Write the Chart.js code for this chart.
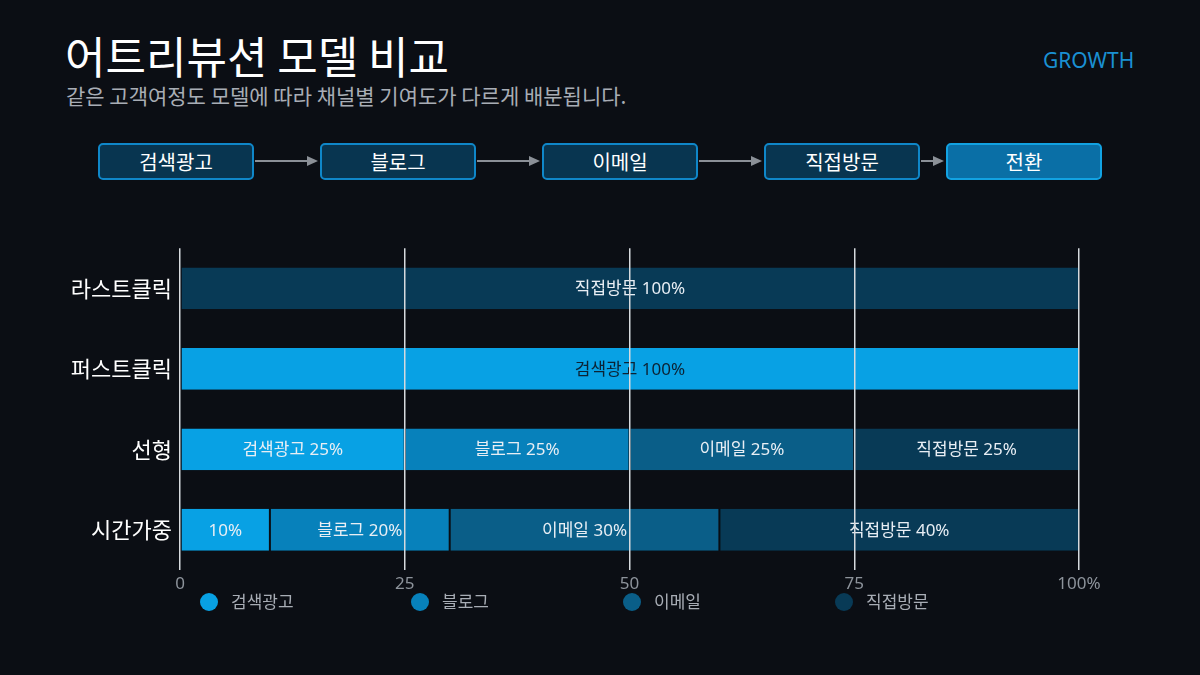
<!DOCTYPE html>
<html>
<head>
<meta charset="utf-8">
<script src="https://cdn.jsdelivr.net/npm/chart.js@4"></script>
<style>
  body { margin: 0; background: #0b0e14; font-family: "Noto Sans CJK KR", "Noto Sans", sans-serif; }
  #page { position: relative; width: 1200px; height: 675px; overflow: hidden; background: #0b0e14; }
  #title { position: absolute; left: 65px; top: 25px; color: #ffffff; font-size: 44px; line-height: 60px; }
  #sub { position: absolute; left: 66px; top: 81px; color: #a8adb5; font-size: 21px; line-height: 28px; }
  #tag { position: absolute; left: 1043px; top: 46px; color: #1a90d2; font-size: 21px; font-family: "Noto Sans", sans-serif; }
  .step { position: absolute; top: 143px; width: 152px; height: 33px; border: 2px solid #0f87c9; border-radius: 5px;
          background: #083550; color: #fff; font-size: 20px; line-height: 33px; text-align: center; }
  .step.last { background: #0a6fa6; border-color: #12a2e2; }
  #arrows { position: absolute; left: 0; top: 0; }
  #wrap { position: absolute; left: 0; top: 235px; width: 1200px; height: 365px; }
  #legend { position: absolute; top: 590px; left: 0; width: 1200px; height: 24px; }
  .lg { position: absolute; top: 0; color: #a8adb5; font-size: 17px; line-height: 22px; white-space: nowrap; }
  .lg i { display: inline-block; width: 18px; height: 18px; border-radius: 50%; vertical-align: -3px; margin-right: 13px; }
</style>
</head>
<body>
<div id="page">
  <div id="title">어트리뷰션 모델 비교</div>
  <div id="sub">같은 고객여정도 모델에 따라 채널별 기여도가 다르게 배분됩니다.</div>
  <div id="tag">GROWTH</div>
  <svg id="arrows" width="1200" height="200"></svg>
  <div id="steps"></div>
  <div id="wrap"><canvas id="chart"></canvas></div>
  <div id="legend"></div>
</div>
<script>
// attribution shares per model, in %
const models = ['라스트클릭', '퍼스트클릭', '선형', '시간가중'];
const channels = ['검색광고', '블로그', '이메일', '직접방문'];
const searchAd = [0, 100, 25, 10];
const blog = [0, 0, 25, 20];
const email = [0, 0, 25, 30];
const direct = [100, 0, 25, 40];
const xTicks = ['0', '25', '50', '75', '100%'];
const steps = ['검색광고', '블로그', '이메일', '직접방문', '전환'];

const colors = ['#08a1e4', '#0781bb', '#0a5e88', '#083a56'];
const bg = '#0b0e14';

// journey boxes + arrows
const stepLeft = [98, 320, 542, 764, 946];
const stepsDiv = document.getElementById('steps');
let svg = '';
steps.forEach((s, i) => {
  const d = document.createElement('div');
  d.className = 'step' + (i === steps.length - 1 ? ' last' : '');
  d.style.left = stepLeft[i] + 'px';
  d.textContent = s;
  stepsDiv.appendChild(d);
  if (i < steps.length - 1) {
    const x1 = stepLeft[i] + 157, x2 = stepLeft[i + 1] - 2, y = 161;
    svg += `<line x1="${x1}" y1="${y}" x2="${x2 - 10}" y2="${y}" stroke="#8b9097" stroke-width="2"/>`;
    svg += `<polygon points="${x2 - 11},${y - 5} ${x2},${y} ${x2 - 11},${y + 5}" fill="#8b9097"/>`;
  }
});
document.getElementById('arrows').innerHTML = svg;

// legend
const legendLeft = [200, 411, 623, 835];
const lg = document.getElementById('legend');
channels.forEach((c, i) => {
  const d = document.createElement('div');
  d.className = 'lg';
  d.style.left = legendLeft[i] + 'px';
  d.innerHTML = `<i style="background:${colors[i]}"></i>${c}`;
  lg.appendChild(d);
});

const seriesData = [searchAd, blog, email, direct];

// text inside segments
const segLabels = {
  id: 'segLabels',
  afterDatasetsDraw(chart) {
    const ctx = chart.ctx;
    ctx.save();
    ctx.font = '17px "Noto Sans", "Noto Sans CJK KR", sans-serif';
    ctx.textAlign = 'center';
    ctx.textBaseline = 'middle';
    chart.data.datasets.forEach((ds, di) => {
      chart.getDatasetMeta(di).data.forEach((bar, i) => {
        const v = ds.data[i];
        if (!v) return;
        const txt = v >= 15 ? ds.label + ' ' + v + '%' : v + '%';
        const cx = (bar.x + bar.base) / 2;
        ctx.fillStyle = (di === 0 && v === 100) ? '#0c2233' : '#e8eef4';
        ctx.fillText(txt, cx, bar.y + 1);
      });
    });
    ctx.restore();
  }
};

new Chart(document.getElementById('chart'), {
  type: 'bar',
  data: {
    labels: models,
    datasets: channels.map((c, i) => ({
      label: c,
      data: seriesData[i],
      backgroundColor: colors[i],
      borderColor: bg,
      borderWidth: { left: 1, right: 1, top: 0, bottom: 0 },
      borderSkipped: false,
      barPercentage: 0.52,
      categoryPercentage: 1
    }))
  },
  options: {
    indexAxis: 'y',
    responsive: true,
    maintainAspectRatio: false,
    animation: false,
    layout: { padding: { left: 0, right: 121, top: 7, bottom: 0 } },
    plugins: { legend: { display: false }, tooltip: { enabled: false } },
    scales: {
      x: {
        stacked: true,
        min: 0, max: 100,
        afterFit(s) { s.height = 30; },
        afterBuildTicks(s) { s.ticks = [0, 25, 50, 75, 100].map(v => ({ value: v })); },
        grid: { color: '#d6dade', lineWidth: 1.5, drawTicks: false, z: 1 },
        border: { display: false },
        ticks: {
          color: '#8d939b',
          padding: 4,
          font: { size: 17, family: '"Noto Sans", sans-serif' },
          callback: (v, i) => xTicks[i]
        }
      },
      y: {
        stacked: true,
        afterFit(s) { s.width = 180; },
        grid: { display: false },
        border: { display: false },
        ticks: {
          color: '#ffffff',
          padding: 0,
          font: { size: 22, family: '"Noto Sans CJK KR", sans-serif' }
        }
      }
    }
  },
  plugins: [segLabels]
});
</script>
</body>
</html>
